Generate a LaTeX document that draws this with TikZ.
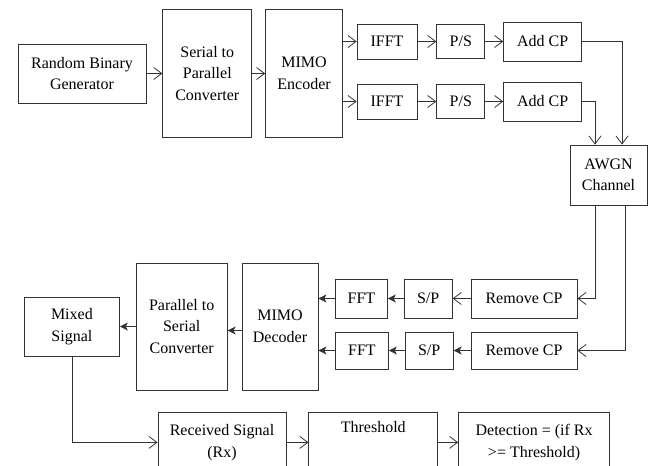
\documentclass[tikz,border=0pt]{standalone}
\usepackage{fontspec}
\setmainfont{Liberation Serif}
\usetikzlibrary{arrows.meta,positioning}

\begin{document}
\begin{tikzpicture}[
    x=1pt, y=-1pt,
    font=\fontsize{16}{21.5}\selectfont,
    block/.style={rectangle, draw=black!80, line width=0.8pt, align=center, inner sep=2pt},
    cutblock/.style={block, anchor=north, minimum height=60pt},
    oarrow/.style={-{Straight Barb[length=8pt,width=12pt]}, draw=black!80, line width=0.8pt},
    farrow/.style={-{Stealth[length=8pt,width=8pt,inset=2pt]}, draw=black!80, line width=0.8pt}
]
    \useasboundingbox (0,0) rectangle (651,466);
    \clip (0,0) rectangle (651,466);

    \node[block, minimum width=128pt, minimum height=59pt] (rbg) at (82,73.5) {Random Binary\\Generator};
    \node[block, minimum width=89pt, minimum height=128pt, right=16pt of rbg] (s2p) {Serial to\\Parallel\\Converter};
    \node[block, minimum width=77pt, minimum height=128pt, right=13pt of s2p] (enc) {MIMO\\Encoder};

    \node[block, minimum width=60pt, minimum height=35pt] (ifft1) at (387,41.5) {IFFT};
    \node[block, minimum width=48pt, minimum height=34pt, right=19pt of ifft1] (ps1) {P/S};
    \node[block, minimum width=78pt, minimum height=39pt, right=18pt of ps1] (acp1) {Add CP};
    \node[block, minimum width=60pt, minimum height=35pt] (ifft2) at (387,101.5) {IFFT};
    \node[block, minimum width=48pt, minimum height=34pt, right=19pt of ifft2] (ps2) {P/S};
    \node[block, minimum width=78pt, minimum height=39pt, right=18pt of ps2] (acp2) {Add CP};

    \node[block, minimum width=77pt, minimum height=60pt] (awgn) at (608.5,175) {AWGN\\Channel};

    \node[block, minimum width=106pt, minimum height=39pt] (rcp1) at (524,298.5) {Remove CP};
    \node[block, minimum width=48pt, minimum height=39pt, left=18pt of rcp1] (sp1) {S/P};
    \node[block, minimum width=52pt, minimum height=39pt, left=16pt of sp1] (fft1) {FFT};
    \node[block, minimum width=106pt, minimum height=37pt] (rcp2) at (524,350.5) {Remove CP};
    \node[block, minimum width=48pt, minimum height=37pt, left=17pt of rcp2] (sp2) {S/P};
    \node[block, minimum width=53pt, minimum height=37pt, left=16pt of sp2] (fft2) {FFT};

    \node[block, minimum width=76pt, minimum height=127pt] (dec) at (280,326.5) {MIMO\\Decoder};
    \node[block, minimum width=91pt, minimum height=127pt, left=14pt of dec] (p2s) {Parallel to\\Serial\\Converter};
    \node[block, minimum width=95pt, minimum height=59pt, left=16pt of p2s] (mix) {Mixed\\Signal};

    \node[cutblock, minimum width=128pt] (rx) at (222,412) {Received Signal\\(Rx)};
    \node[cutblock, minimum width=129pt, right=22pt of rx, label={[anchor=north, yshift=-6pt]north:Threshold}] (thr) {};
    \node[cutblock, minimum width=151pt, right=20pt of thr] (det) {Detection = (if Rx\\>= Threshold)};

    \draw[oarrow] (rbg) -- (s2p);
    \draw[oarrow] (s2p) -- (enc);
    \draw[oarrow] (enc.east |- ifft1) -- (ifft1);
    \draw[oarrow] (enc.east |- ifft2) -- (ifft2);
    \draw[oarrow] (ifft1) -- (ps1);
    \draw[oarrow] (ps1) -- (acp1);
    \draw[oarrow] (ifft2) -- (ps2);
    \draw[oarrow] (ps2) -- (acp2);
    \draw[oarrow] (acp1.east) -| ([xshift=13.5pt]awgn.north);
    \draw[oarrow] (acp2.east) -| ([xshift=-13.5pt]awgn.north);

    \draw[oarrow] ([xshift=-13.5pt]awgn.south) |- (rcp1.east);
    \draw[oarrow] ([xshift=16.5pt]awgn.south) |- (rcp2.east);
    \draw[oarrow] (rcp1) -- (sp1);
    \draw[farrow] (rcp2) -- (sp2);
    \draw[farrow] (sp1) -- (fft1);
    \draw[farrow] (sp2) -- (fft2);
    \draw[farrow] (fft1.west) -- (fft1.west -| dec.east);
    \draw[farrow] (fft2.west) -- (fft2.west -| dec.east);
    \draw[farrow] ([yshift=-4pt]dec.west) -- ([yshift=-4pt]p2s.east);
    \draw[farrow] (p2s.west) -- (p2s.west -| mix.east);

    \draw[oarrow] (mix.south) |- (rx.west);
    \draw[oarrow] (rx) -- (thr);
    \draw[oarrow] (thr) -- (det);
\end{tikzpicture}
\end{document}
